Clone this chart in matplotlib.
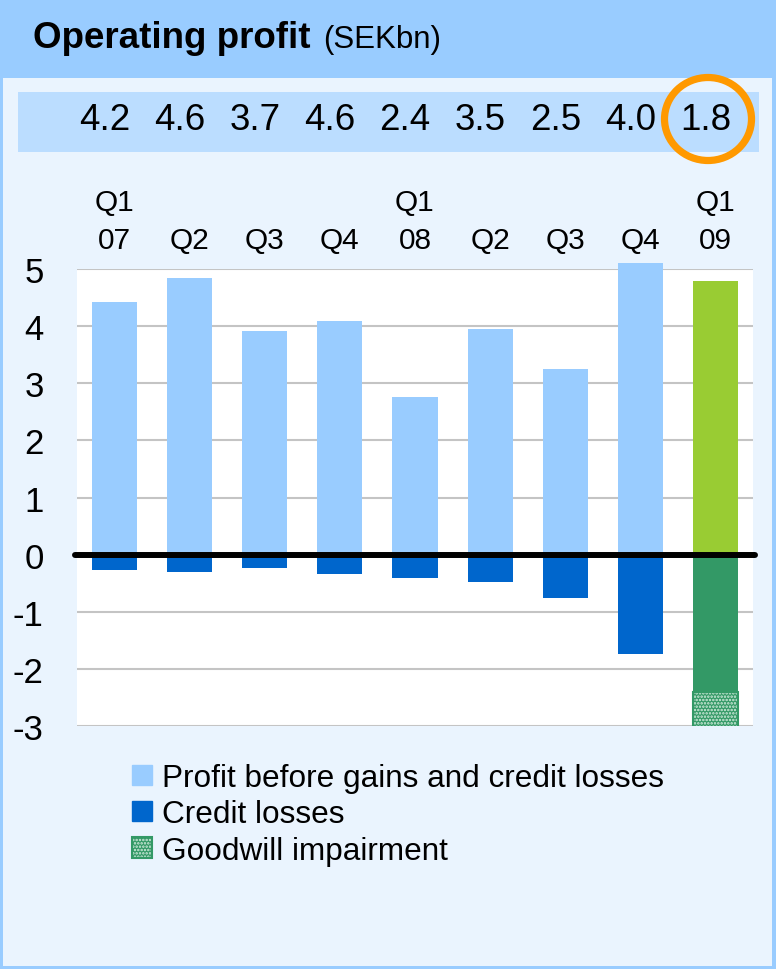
import numpy as np
import matplotlib
matplotlib.use('Agg')
import matplotlib.pyplot as plt
import matplotlib.patches as mpatches
import matplotlib.transforms as mtransforms

# data (SEKbn)
quarters = ['Q1\n07', 'Q2', 'Q3', 'Q4', 'Q1\n08', 'Q2', 'Q3', 'Q4', 'Q1\n09']
operating_profit = ['4.2', '4.6', '3.7', '4.6', '2.4', '3.5', '2.5', '4.0', '1.8']
profit_before = [4.43, 4.84, 3.92, 4.09, 2.76, 3.95, 3.25, 5.11, 4.79]
credit_losses = [-0.27, -0.30, -0.23, -0.34, -0.41, -0.48, -0.76, -1.74, -2.41]
goodwill = [0, 0, 0, 0, 0, 0, 0, 0, -0.60]

light_blue = '#99CCFF'
dark_blue = '#0066CC'
lime = '#99CC33'
dark_green = '#339966'

plt.rcParams['font.family'] = ['Liberation Sans', 'DejaVu Sans']
plt.rcParams['axes.unicode_minus'] = False
plt.rcParams['hatch.color'] = '#d6ede0'
plt.rcParams['hatch.linewidth'] = 1.2

W, H = 776, 970
fig = plt.figure(figsize=(W / 100, H / 100), dpi=100, facecolor=light_blue)

def px(x0, y0, x1, y1):
    # pixel box (top-left origin) -> figure fraction rect
    return (x0 / W, 1 - y1 / H, (x1 - x0) / W, (y1 - y0) / H)

# body panel and value band
for box, col in [((3, 79, 772, 967), '#EAF4FE'), ((18, 93, 759, 153), '#BBDDFF')]:
    l, b, w, h = px(*box)
    fig.patches.append(mpatches.Rectangle((l, b), w, h, transform=fig.transFigure,
                                          facecolor=col, edgecolor='none', zorder=-2))

fig.text(33 / W, 1 - 48 / H, 'Operating profit', fontsize=26.5, fontweight='bold',
         va='baseline', ha='left')
fig.text(323 / W, 1 - 48 / H, '(SEKbn)', fontsize=22.5, va='baseline', ha='left')

ax = fig.add_axes(px(77, 270, 753, 727))
ax.set_facecolor('white')
x = np.arange(len(quarters))
n = len(quarters)

top_colors = [light_blue] * (n - 1) + [lime]
neg_colors = [dark_blue] * (n - 1) + [dark_green]

ax.bar(x, profit_before, width=0.6, color=top_colors, zorder=2, clip_on=False)
ax.bar(x, credit_losses, width=0.6, color=neg_colors, zorder=2)

# goodwill only where there is any
gw = np.array(goodwill)
has_gw = gw != 0
gw_x = x[has_gw]
gw_h = gw[has_gw]
gw_bottom = np.array(credit_losses)[has_gw]
ax.bar(gw_x, gw_h, width=0.6, bottom=gw_bottom, color=dark_green,
       hatch='.....', zorder=2)
ax.bar(gw_x, gw_h, width=0.6, bottom=gw_bottom, fill=False,
       edgecolor=dark_green, linewidth=1.5, zorder=2)

ax.axhline(0, color='black', linewidth=4.3, solid_capstyle='round',
           xmin=-0.003, xmax=1.003, clip_on=False, zorder=4)

ax.set_xlim(-0.5, n - 0.5)
ax.set_ylim(-3, 5)
ax.set_yticks(range(-3, 6))
ax.grid(axis='y', color='#C4C4C4', linewidth=1.5)
ax.set_axisbelow(True)
for s in ax.spines.values():
    s.set_visible(False)

ax.xaxis.tick_top()
ax.set_xticks(x)
ax.set_xticklabels(quarters, fontsize=21.5, linespacing=1.45)
ax.tick_params(axis='x', length=0, pad=11)
ax.tick_params(axis='y', length=0, pad=24, labelsize=25)

# operating profit row above the chart
trans = mtransforms.blended_transform_factory(ax.transData, fig.transFigure)
for xi, v in zip(x, operating_profit):
    fig.text(xi - 0.13, 1 - 121 / H, v, transform=trans, fontsize=26.5,
             ha='center', va='center')

# highlight circle around the latest quarter
circle = mpatches.Ellipse((708 / W, 1 - 120 / H), 87 / W, 83 / H,
                          transform=fig.transFigure, fill=False,
                          edgecolor='#FF9900', linewidth=5.2, zorder=5)
fig.patches.append(circle)

gw_handle = (mpatches.Patch(facecolor=dark_green, hatch='.....'),
             mpatches.Patch(fill=False, edgecolor=dark_green, linewidth=1.5))
handles = [mpatches.Patch(color=light_blue), mpatches.Patch(color=dark_blue), gw_handle]
labels = ['Profit before gains and credit losses', 'Credit losses', 'Goodwill impairment']
fig.legend(handles, labels, loc='upper left', bbox_to_anchor=(132 / W, 1 - 764 / H),
           frameon=False, fontsize=22.7, handlelength=0.62, handleheight=0.62,
           handletextpad=0.33, labelspacing=0.2, borderpad=0, borderaxespad=0)

plt.savefig('out.png', dpi=100, facecolor=fig.get_facecolor())
